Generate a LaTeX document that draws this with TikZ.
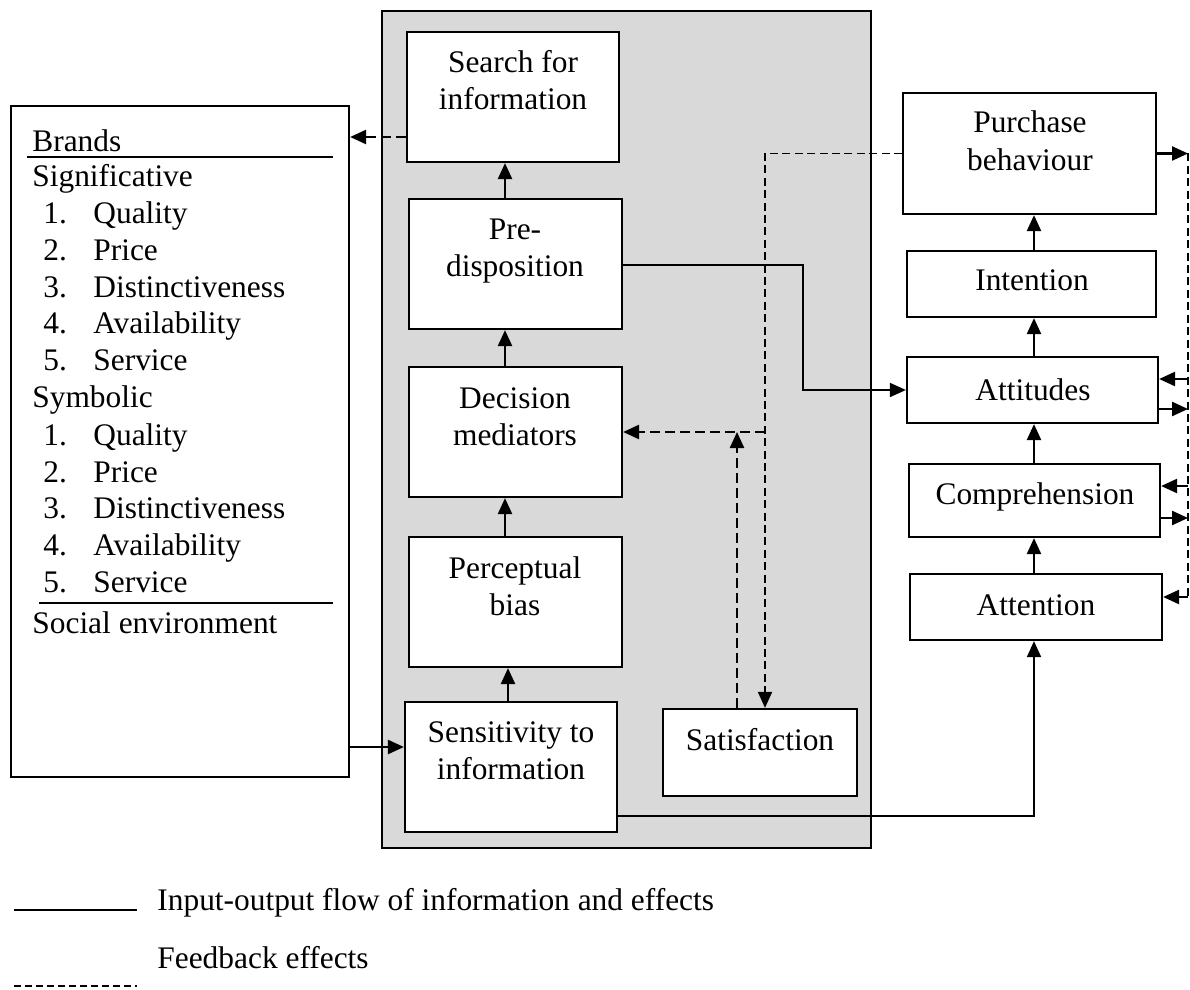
\documentclass[tikz,border=0pt]{standalone}
\usepackage{fontspec}
\setmainfont{Liberation Serif}
\usetikzlibrary{arrows.meta,fit,calc}
\definecolor{panel}{RGB}{217,217,217}
\newcommand\fs{\fontsize{15.7}{18.4}\selectfont}
\tikzset{
  box/.style={draw, line width=1.1pt, fill=white, inner sep=0pt},
  flow/.style={line width=1.2pt},
  flowthin/.style={line width=0.9pt},
  fb/.style={line width=1.2pt, dash pattern=on 5pt off 2.5pt},
  fbthin/.style={line width=0.9pt, dash pattern=on 4pt off 2.2pt},
  tip/.style={-{Triangle[length=8pt,width=7pt]}},
  txt/.style={inner sep=0pt, anchor=base, font=\fs},
  ltxt/.style={inner sep=0pt, anchor=base west, font=\fs},
}
\begin{document}
\begin{tikzpicture}[x=0.5pt,y=-0.5pt]
\useasboundingbox (0,0) rectangle (1190,990);

% grey panel
\node[draw, line width=1.1pt, fill=panel, inner sep=0pt, fit={(382,11) (871,848)}] (panel) {};

% left box
\node[box, fit={(11,106) (349,777)}] (left) {};
\node[ltxt] (tBrands) at (32,152) {Brands};
\coordinate (l1a) at (27,157); \coordinate (l1b) at (333,157);
\draw[flowthin] (l1a) -- (l1b);
\node[ltxt] (tSig) at (32,187) {Significative};
\foreach \n/\t/\y in {1/Quality/223,2/Price/260,3/Distinctiveness/297,4/Availability/333,5/Service/370}{
  \node[ltxt] (sn\n) at (43,\y) {\n.};
  \node[ltxt] (st\n) at (93,\y) {\t};
}
\node[ltxt] (tSym) at (32,407) {Symbolic};
\foreach \n/\t/\y in {1/Quality/445,2/Price/482,3/Distinctiveness/518,4/Availability/555,5/Service/592}{
  \node[ltxt] (yn\n) at (43,\y) {\n.};
  \node[ltxt] (yt\n) at (93,\y) {\t};
}
\coordinate (l2a) at (39,603); \coordinate (l2b) at (333,603);
\draw[flowthin] (l2a) -- (l2b);
\node[ltxt] (tSoc) at (32,633) {Social environment};

% centre boxes
\node[box, fit={(407,32) (619,162)}] (search) {};
\node[txt] at (513,73) {Search for};
\node[txt] at (513,110) {information};

\node[box, fit={(409,199) (622,329)}] (pre) {};
\node[txt] at (515,240) {Pre-};
\node[txt] at (515,277) {disposition};

\node[box, fit={(409,367) (622,497)}] (dec) {};
\node[txt] at (515,408) {Decision};
\node[txt] at (515,445) {mediators};

\node[box, fit={(409,537) (622,667)}] (perc) {};
\node[txt] at (515,578) {Perceptual};
\node[txt] at (515,615) {bias};

\node[box, fit={(405,702) (617,832)}] (sens) {};
\node[txt] at (511,742) {Sensitivity to};
\node[txt] at (511,779) {information};

\node[box, fit={(663,709) (857,796)}] (sat) {};
\node[txt] at (760,750) {Satisfaction};

% right boxes
\node[box, fit={(903,93) (1156,214)}] (pur) {};
\node[txt] at (1030,133) {Purchase};
\node[txt] at (1030,170) {behaviour};

\node[box, fit={(907,251) (1156,317)}] (int) {};
\node[txt] at (1032,291) {Intention};

\node[box, fit={(907,357) (1158,423)}] (att) {};
\node[txt] at (1033,400) {Attitudes};

\node[box, fit={(909,464) (1160,537)}] (comp) {};
\node[txt] at (1035,504) {Comprehension};

\node[box, fit={(910,574) (1162,640)}] (attn) {};
\node[txt] at (1036,615) {Attention};

% helper coordinates
\coordinate (cx) at (505,0);
\coordinate (cx2) at (508,0);
\coordinate (rx) at (1034,0);
\coordinate (y137) at (0,137);
\coordinate (y265) at (0,265);
\coordinate (bendA) at (803,0);
\coordinate (fbx) at (765,0);
\coordinate (upx) at (737,0);
\coordinate (y816) at (0,816);
\coordinate (y747) at (0,747);
\coordinate (vx) at (1188,0);
\coordinate (a1) at (0,379);
\coordinate (a2) at (0,409);
\coordinate (c1) at (0,486);
\coordinate (c2) at (0,518);
\coordinate (t1) at (0,597);

% centre flows
\draw[flow,tip] (pre.north -| cx) -- (search.south -| cx);
\draw[flow,tip] (dec.north -| cx) -- (pre.south -| cx);
\draw[flow,tip] (perc.north -| cx) -- (dec.south -| cx);
\draw[flow,tip] (sens.north -| cx2) -- (perc.south -| cx2);

% feedback search -> brands
\draw[fb,tip] (search.west |- y137) -- (left.east |- y137);

% brands -> sensitivity
\draw[flow,tip] (left.east |- y747) -- (sens.west |- y747);

% predisposition -> attitudes
\draw[flowthin,tip] (pre.east |- y265) -| (bendA |- att.west) -- (att.west);

% sensitivity -> attention
\draw[flowthin,tip] (sens.east |- y816) -| (attn.south -| rx);

% feedback purchase -> satisfaction / decision
\draw[fbthin,tip] (pur.west) -| (sat.north -| fbx);
\draw[fb,tip] (dec.east -| fbx) -- (dec.east);
\draw[fb,tip] (sat.north -| upx) -- (dec.east -| upx);

% right column
\draw[flow,tip] (int.north -| rx) -- (pur.south -| rx);
\draw[flow,tip] (att.north -| rx) -- (int.south -| rx);
\draw[flow,tip] (comp.north -| rx) -- (att.south -| rx);
\draw[flow,tip] (attn.north -| rx) -- (comp.south -| rx);

% right feedback loop
\draw[flow,tip] (pur.east) -- (pur.east -| vx);
\draw[fbthin] (pur.east -| vx) -- (vx |- t1);
\draw[flow,tip] (vx |- a1) -- (att.east |- a1);
\draw[flow,tip] (att.east |- a2) -- (vx |- a2);
\draw[flow,tip] (vx |- c1) -- (comp.east |- c1);
\draw[flow,tip] (comp.east |- c2) -- (vx |- c2);
\draw[flow,tip] (vx |- t1) -- (attn.east |- t1);

% legend
\coordinate (lg1a) at (14,910); \coordinate (lg1b) at (137,910);
\coordinate (lg2a) at (14,986); \coordinate (lg2b) at (137,986);
\draw[flowthin] (lg1a) -- (lg1b);
\draw[line width=0.9pt, dash pattern=on 3.5pt off 2pt] (lg2a) -- (lg2b);
\node[ltxt] (lgt1) at (157,910) {Input-output flow of information and effects};
\node[ltxt] (lgt2) at (157,968) {Feedback effects};
\end{tikzpicture}
\end{document}
